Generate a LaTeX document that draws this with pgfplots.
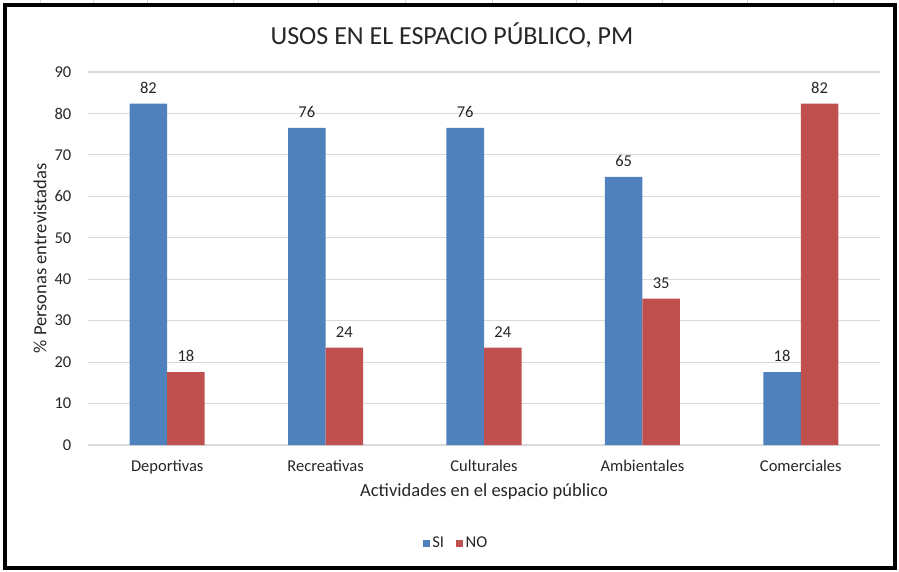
\documentclass[border=0pt]{standalone}
\usepackage{fontspec}
\setmainfont{Carlito}
\usepackage{pgfplots}
\pgfplotsset{compat=1.18}
\definecolor{siblue}{HTML}{4F81BD}
\definecolor{nored}{HTML}{C0504D}
\definecolor{gridgray}{HTML}{D9D9D9}
\begin{document}
\begin{tikzpicture}[x=0.75pt,y=0.75pt]
\useasboundingbox (0,0) rectangle (899,571);
\foreach \xx in {40,93,147,233,318,405,492,576,662,747,833}
  \draw[gray!35,line width=0.75pt] (\xx,571) -- (\xx,565);
\draw[line width=3pt] (5,566) rectangle (895,3);
\node[font=\fontsize{19.5}{22}\selectfont, text=black!85] at (452,536) {USOS EN EL ESPACIO PÚBLICO, PM};
\begin{axis}[
  at={(66pt,94.5pt)}, anchor=south west,
  scale only axis, width=594pt, height=279.75pt,
  /pgf/number format/assume math mode=true,
  ybar=0pt, bar width=0.237,
  xmin=-0.5, xmax=4.5, ymin=0, ymax=90,
  ytick={0,10,...,90},
  xtick={0,1,2,3,4},
  xticklabels={Deportivas,Recreativas,Culturales,Ambientales,Comerciales},
  axis line style={draw=none},
  major tick length=0pt,
  ymajorgrids, grid style={draw=gridgray, line width=0.9pt},
  tick label style={font=\fontsize{12.4}{14}\selectfont, text=black!85},
  yticklabel style={anchor=east, xshift=-9pt},
  xticklabel style={anchor=north, yshift=-8pt},
  xlabel={Actividades en el espacio público},
  ylabel={\% Personas entrevistadas},
  every axis x label/.style={at={(axis description cs:0.5,-0.126)}, anchor=center,
    font=\fontsize{13.9}{16}\selectfont, text=black!85},
  every axis y label/.style={at={(axis description cs:-0.0606,0.5)}, rotate=90, anchor=center,
    font=\fontsize{13.9}{16}\selectfont, text=black!85},
  point meta=explicit symbolic,
  nodes near coords,
  every node near coord/.append style={font=\fontsize{12.4}{14}\selectfont, text=black!85, anchor=south, yshift=4pt},
  legend style={at={(axis description cs:0.465,-0.263)}, anchor=center, draw=none,
    legend columns=2, font=\fontsize{12.4}{14}\selectfont, text=black!85,
    /tikz/every even column/.append style={column sep=7pt}},
  legend image code/.code={\fill[#1] (0pt,-2.6pt) rectangle (5.2pt,2.6pt);},
]
\addplot[fill=siblue, draw=none] coordinates {(0,82.4) [82] (1,76.5) [76] (2,76.5) [76] (3,64.7) [65] (4,17.6) [18]};
\addplot[fill=nored, draw=none] coordinates {(0,17.6) [18] (1,23.5) [24] (2,23.5) [24] (3,35.3) [35] (4,82.4) [82]};
\legend{SI,NO}
\end{axis}
\end{tikzpicture}
\end{document}
